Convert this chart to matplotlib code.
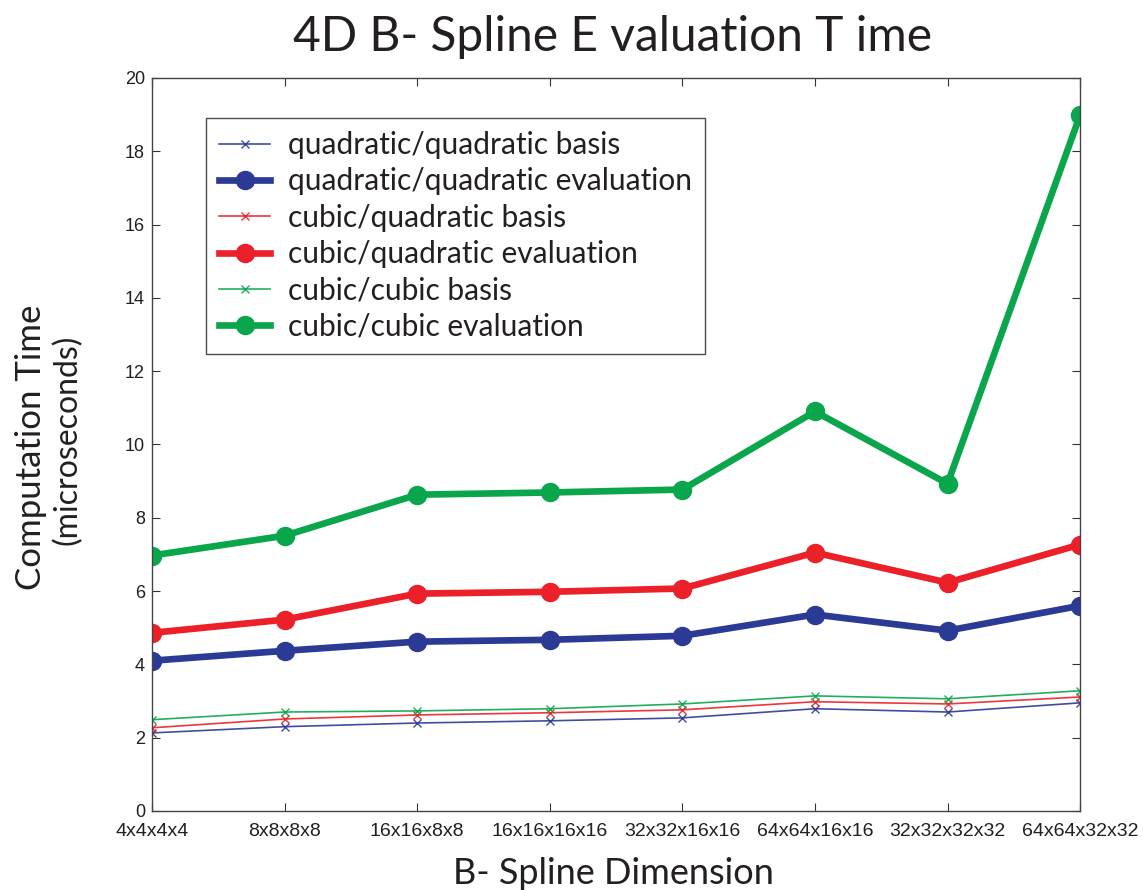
import matplotlib
matplotlib.use("Agg")
import matplotlib.pyplot as plt

dimensions = ["4x4x4x4", "8x8x8x8", "16x16x8x8", "16x16x16x16",
              "32x32x16x16", "64x64x16x16", "32x32x32x32", "64x64x32x32"]

quad_quad_basis = [2.13, 2.30, 2.40, 2.46, 2.54, 2.79, 2.70, 2.95]
quad_quad_eval = [4.10, 4.37, 4.62, 4.67, 4.78, 5.36, 4.92, 5.60]
cubic_quad_basis = [2.27, 2.51, 2.62, 2.68, 2.76, 2.98, 2.92, 3.11]
cubic_quad_eval = [4.86, 5.22, 5.93, 5.98, 6.07, 7.05, 6.23, 7.27]
cubic_cubic_basis = [2.49, 2.70, 2.73, 2.79, 2.92, 3.14, 3.06, 3.28]
cubic_cubic_eval = [6.97, 7.51, 8.63, 8.69, 8.77, 10.90, 8.93, 18.99]

yticks = [0, 2, 4, 6, 8, 10, 12, 14, 16, 18, 20]

BLUE = "#2b3a95"
RED = "#ec2028"
GREEN = "#0aa64b"
INK = "#231f20"

fig = plt.figure(figsize=(11.43, 8.90), dpi=100)
ax = fig.add_axes([0.133, 0.0888, 0.812, 0.8236])

x = list(range(len(dimensions)))

def basis(vals, color, label):
    ax.plot(x, vals, color=color, lw=1.2, marker="x", ms=6, mew=1.0,
            mec=color, alpha=0.9, label=label)

def evaluation(vals, color, label):
    ax.plot(x, vals, color=color, lw=4.8, marker="o", ms=13,
            mfc=color, mec=color, label=label)

basis(quad_quad_basis, BLUE, "quadratic/quadratic basis")
evaluation(quad_quad_eval, BLUE, "quadratic/quadratic evaluation")
basis(cubic_quad_basis, RED, "cubic/quadratic basis")
evaluation(cubic_quad_eval, RED, "cubic/quadratic evaluation")
basis(cubic_cubic_basis, GREEN, "cubic/cubic basis")
evaluation(cubic_cubic_eval, GREEN, "cubic/cubic evaluation")

ax.set_xlim(0, len(dimensions) - 1)
ax.set_ylim(0, 20)
ax.set_xticks(x)
ax.set_xticklabels(dimensions, family="Liberation Sans", fontsize=14)
ax.set_yticks(yticks)
ax.set_yticklabels([str(v) for v in yticks], family="Liberation Sans", fontsize=13)
ax.tick_params(direction="in", length=6, width=0.8, top=True, right=True,
               colors="#333333", labelcolor=INK, pad=5)
ax.tick_params(axis="x", pad=9)
for s in ax.spines.values():
    s.set_color("#444444")
    s.set_linewidth(1.0)

ui_font = "Lato"
fig.text(0.536, 0.958, "4D B- Spline E valuation T ime", ha="center", va="center",
         family=ui_font, fontsize=34.5, color=INK)
fig.text(0.537, 0.018, "B- Spline Dimension", ha="center", va="center",
         family=ui_font, fontsize=26, color=INK)
fig.text(0.027, 0.497, "Computation Time", ha="center", va="center",
         rotation=90, family=ui_font, fontsize=25, color=INK)
fig.text(0.059, 0.506, "(microseconds)", ha="center", va="center",
         rotation=90, family=ui_font, fontsize=23, color=INK)

leg = ax.legend(loc="upper left", bbox_to_anchor=(0.058, 0.946),
                prop={"family": ui_font, "size": 21.5}, frameon=True, fancybox=False,
                edgecolor=INK, handlelength=1.7, handletextpad=0.6,
                labelspacing=0.28, borderpad=0.45, borderaxespad=0)
leg.get_frame().set_linewidth(1.0)
for t in leg.get_texts():
    t.set_color(INK)

fig.savefig("out.png", dpi=100, facecolor="white")
